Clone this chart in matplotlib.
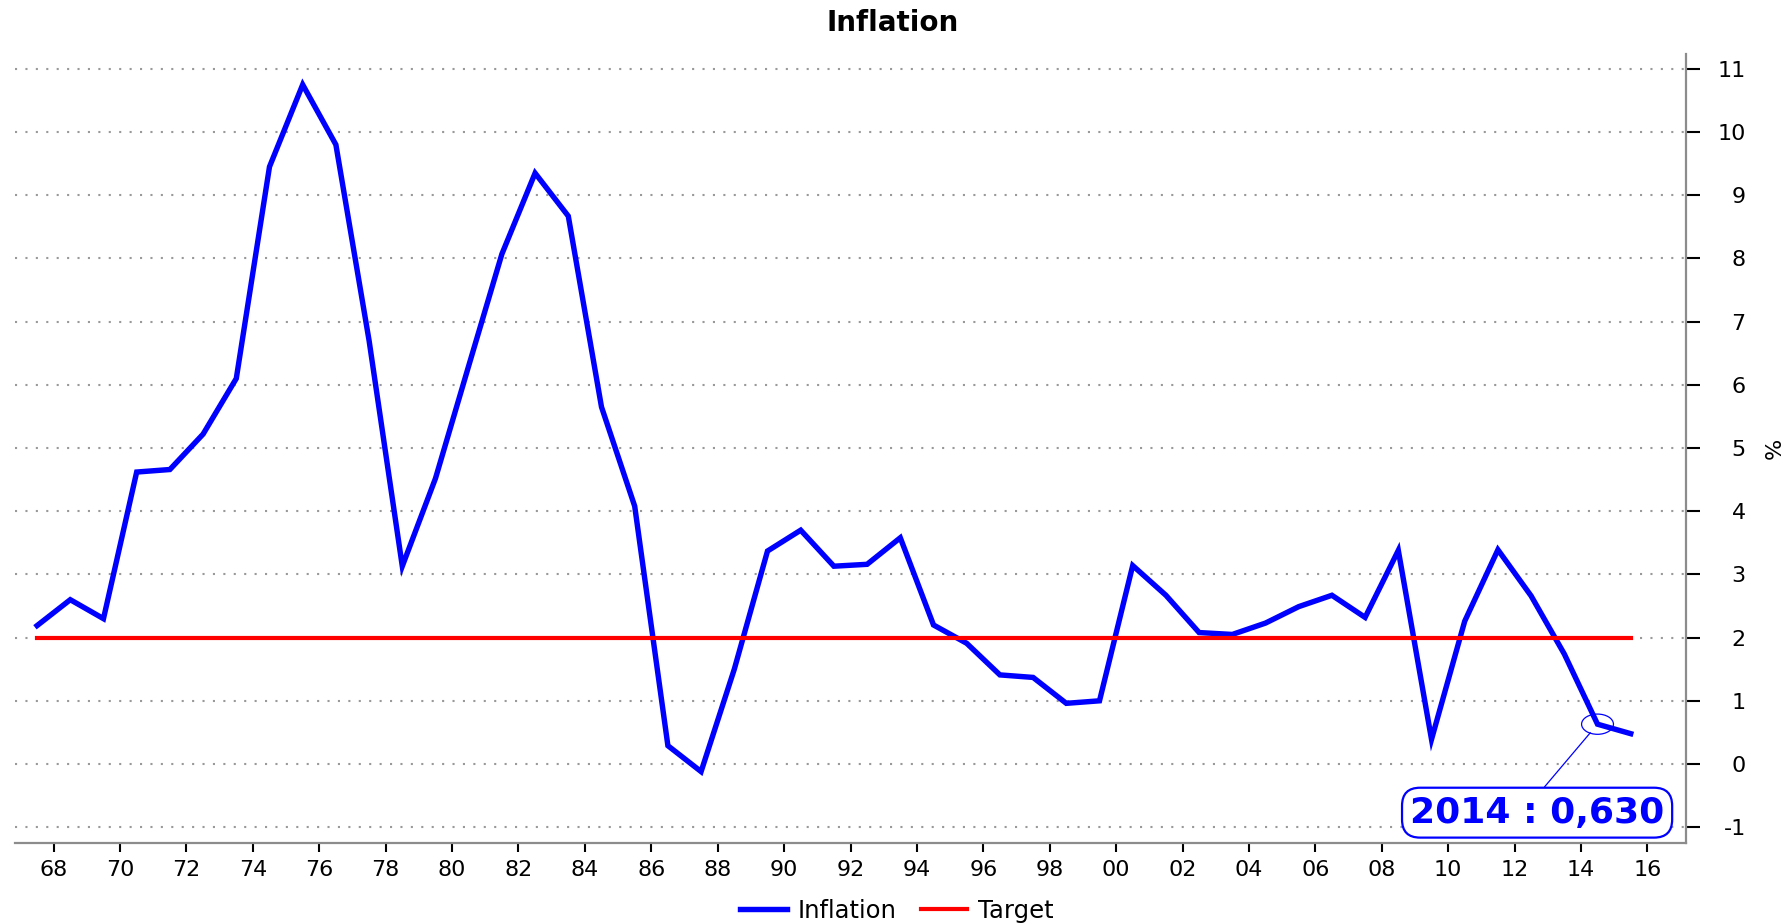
import numpy as np
import matplotlib.pyplot as plt
from matplotlib.patches import Ellipse

plt.rcParams['font.family'] = ['DejaVu Sans']
plt.rcParams['axes.unicode_minus'] = False

# annual data, 1967 - 2015
years = np.arange(1967, 2016)
inflation = [2.19, 2.60, 2.30, 4.62, 4.66, 5.22, 6.10, 9.45, 10.75, 9.80,
             6.70, 3.13, 4.52, 6.30, 8.07, 9.35, 8.67, 5.65, 4.08, 0.29,
             -0.12, 1.50, 3.37, 3.70, 3.13, 3.16, 3.58, 2.20, 1.91, 1.41,
             1.37, 0.96, 1.00, 3.14, 2.67, 2.08, 2.05, 2.23, 2.49, 2.67,
             2.32, 3.38, 0.39, 2.26, 3.39, 2.66, 1.74, 0.63, 0.48]
target = [2.0] * len(years)

tick_years = np.arange(1968, 2017, 2)
tick_labels = ["%02d" % (y % 100) for y in tick_years]
y_ticks = list(range(-1, 12))

note_year = 2014
note_value = 0.630

fig = plt.figure(figsize=(17.91, 9.24), dpi=100)
ax = fig.add_axes([15 / 1791, (924 - 843) / 924, (1686 - 15) / 1791, (843 - 54) / 924])

# points sit in the middle of each year
x = years + 0.5
ax.plot(x, inflation, color='#0000ff', lw=3.9, label='Inflation',
        solid_joinstyle='miter')
ax.plot(x, target, color='#ff0000', lw=3.0, label='Target')

ax.set_xlim(1966.835, 2017.165)
ax.set_ylim(-1.25, 11.235)

ax.set_xticks(tick_years)
ax.set_xticklabels(tick_labels)
ax.set_yticks(y_ticks)

ax.set_axisbelow(True)
ax.grid(axis='y', color='#999999', linestyle=(0, (1, 4)), lw=1.5)
ax.grid(axis='x', visible=False)

for side in ['left', 'top']:
    ax.spines[side].set_visible(False)
for side in ['bottom', 'right']:
    ax.spines[side].set_color('#8c8c8c')
    ax.spines[side].set_linewidth(1.6)

ax.yaxis.tick_right()
ax.tick_params(axis='x', length=6.3, width=1.5, color='black', labelsize=16, pad=6)
ax.tick_params(axis='y', length=10, width=1.5, color='black', labelsize=16, pad=33)
for t in ax.yaxis.get_major_ticks():
    t.label2.set_horizontalalignment('right')

ax.yaxis.set_label_position('right')
ax.set_ylabel('%', fontsize=16, labelpad=14)

fig.text(893 / 1791, 1 - 23 / 924, 'Inflation', ha='center', va='center',
         fontsize=20, fontweight='bold')

# marker ellipse + callout
px = note_year + 0.5
ax.add_patch(Ellipse((px, note_value), 0.96, 0.32, fill=False,
                     edgecolor='#0000ff', lw=0.9, zorder=5))
ax.annotate('2014 : 0,630', xy=(px, note_value), xytext=(2012.68, -0.77),
            ha='center', va='center', fontsize=26, fontweight='bold',
            color='#0000ff',
            bbox=dict(boxstyle='round,pad=0.22,rounding_size=0.5',
                      fc='white', ec='#0000ff', lw=1.6),
            arrowprops=dict(arrowstyle='-', color='#0000ff', lw=0.9,
                            shrinkA=0, shrinkB=8, relpos=(0.5, 1.0)),
            zorder=6)

fig.legend(loc='center', bbox_to_anchor=(897 / 1791, 1 - 911 / 924), ncol=2,
           frameon=False, fontsize=17.5, handlelength=1.9, handletextpad=0.45,
           columnspacing=1.0)

fig.savefig('out.png', dpi=100)
